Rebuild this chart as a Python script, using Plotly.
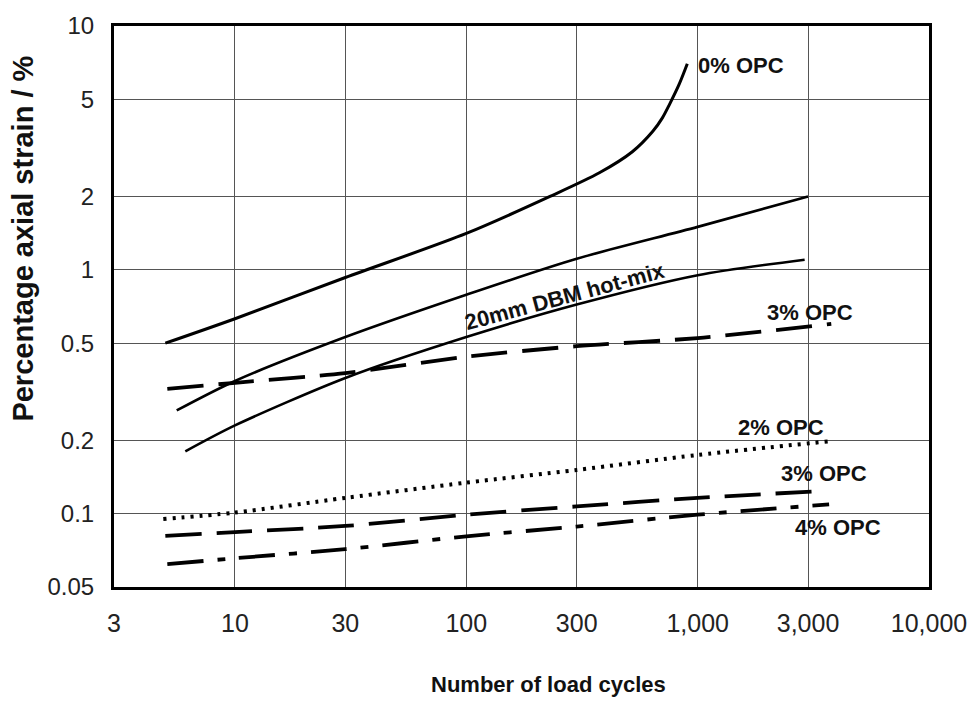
import plotly.graph_objects as go

# ---- data (log-log) ----
opc0_x = [5.0, 10, 30, 100, 230, 376, 522, 640, 704, 754, 834, 902]
opc0_y = [0.50, 0.63, 0.93, 1.41, 2.0, 2.5, 3.05, 3.7, 4.2, 4.75, 5.8, 7.0]

dbm1_x = [5.6, 10, 30, 100, 300, 1000, 3000]
dbm1_y = [0.265, 0.35, 0.53, 0.79, 1.11, 1.5, 2.0]

dbm2_x = [6.1, 10, 30, 100, 300, 1000, 2900]
dbm2_y = [0.18, 0.23, 0.36, 0.53, 0.72, 0.95, 1.1]

opc3a_x = [5.1, 10, 30, 100, 300, 1000, 3780]
opc3a_y = [0.325, 0.344, 0.377, 0.44, 0.486, 0.525, 0.60]

opc2_x = [4.9, 10, 30, 100, 300, 1000, 3700]
opc2_y = [0.095, 0.101, 0.116, 0.134, 0.151, 0.174, 0.198]

opc3b_x = [5.0, 10, 30, 100, 300, 1000, 3600]
opc3b_y = [0.081, 0.084, 0.089, 0.099, 0.107, 0.116, 0.124]

opc4_x = [5.1, 10, 30, 100, 300, 1000, 3700]
opc4_y = [0.062, 0.0656, 0.0715, 0.0807, 0.0885, 0.099, 0.109]

x_tickvals = [3, 10, 30, 100, 300, 1000, 3000, 10000]
x_ticktext = ["3", "10", "30", "100", "300", "1,000", "3,000", "10,000"]
y_tickvals = [0.05, 0.1, 0.2, 0.5, 1, 2, 5, 10]
y_ticktext = ["0.05", "0.1", "0.2", "0.5", "1", "2", "5", "10"]

fig = go.Figure()

def add(x, y, dash, width):
    fig.add_trace(go.Scatter(
        x=x, y=y, mode="lines",
        line=dict(color="black", width=width, dash=dash, shape="spline", smoothing=0.8),
        showlegend=False, hoverinfo="skip"))

add(opc0_x, opc0_y, "solid", 3)
add(dbm1_x, dbm1_y, "solid", 2.6)
add(dbm2_x, dbm2_y, "solid", 2.6)
add(opc3a_x, opc3a_y, "36px,15px", 3.8)
add(opc2_x, opc2_y, "3px,6px", 4)
add(opc3b_x, opc3b_y, "36px,15px", 3.8)
add(opc4_x, opc4_y, "36px,14px,8px,14px", 3.8)

label_font = dict(family="Liberation Sans, Arial, sans-serif", size=22, color="#111")
anns = [
    dict(text="<b>0% OPC</b>", x=0.714, y=0.929, xanchor="left", yanchor="middle"),
    dict(text="<b>3% OPC</b>", x=0.854, y=0.490, xanchor="center", yanchor="middle"),
    dict(text="<b>2% OPC</b>", x=0.819, y=0.285, xanchor="center", yanchor="middle"),
    dict(text="<b>3% OPC</b>", x=0.871, y=0.202, xanchor="center", yanchor="middle"),
    dict(text="<b>4% OPC</b>", x=0.888, y=0.106, xanchor="center", yanchor="middle"),
    dict(text="<b>20mm DBM hot-mix</b>", x=0.553, y=0.517, xanchor="center",
         yanchor="middle", textangle=-15),
]
for a in anns:
    fig.add_annotation(xref="paper", yref="paper", showarrow=False, font=label_font, **a)

# axis titles as annotations
fig.add_annotation(text="<b>Number of load cycles</b>", xref="paper", yref="paper",
                   x=(549 - 114) / 816, y=(587 - 685) / 565, xanchor="center", yanchor="middle",
                   showarrow=False,
                   font=dict(family="Liberation Sans, Arial, sans-serif", size=22, color="#111"))
fig.add_annotation(text="<b>Percentage axial strain / %</b>", xref="paper", yref="paper",
                   x=(23 - 114) / 816, y=(587 - 236) / 565, xanchor="center", yanchor="middle",
                   textangle=-90, showarrow=False,
                   font=dict(family="Liberation Sans, Arial, sans-serif", size=29, color="#111"))

tick_font = dict(family="Liberation Sans, Arial, sans-serif", size=25, color="#222")
fig.update_xaxes(type="log", range=[0.4771, 4.0], tickvals=x_tickvals, ticktext=x_ticktext,
                 showgrid=True, gridcolor="#555", gridwidth=1.2,
                 showline=True, linecolor="black", linewidth=3, mirror=True,
                 ticks="", tickfont=tick_font, ticklabelstandoff=12, zeroline=False)
fig.update_yaxes(type="log", range=[-1.30103, 1.0], tickvals=y_tickvals, ticktext=y_ticktext,
                 showgrid=True, gridcolor="#555", gridwidth=1.2,
                 showline=True, linecolor="black", linewidth=3, mirror=True,
                 ticks="", tickfont=dict(family="Liberation Sans, Arial, sans-serif", size=24, color="#222"),
                 ticklabelstandoff=12, zeroline=False)

fig.update_layout(width=979, height=704, plot_bgcolor="white", paper_bgcolor="white",
                  margin=dict(l=114, r=49, t=22, b=117), showlegend=False)

fig.write_html("out.html")
